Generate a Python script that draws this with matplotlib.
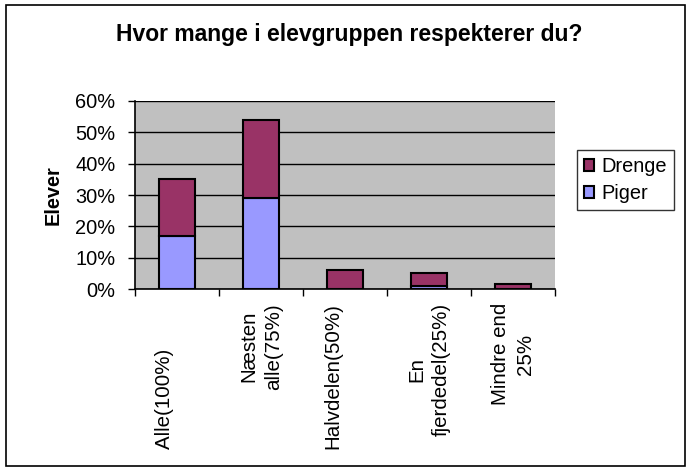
import matplotlib
matplotlib.use("Agg")
import matplotlib.pyplot as plt
from matplotlib.patches import Rectangle
import numpy as np

categories = ["Alle(100%)        \n", "Næsten\nalle(75%)", "Halvdelen(50%)\n", "En\nfjerdedel(25%)", "Mindre end\n25%"]
piger = [0.17, 0.29, 0.0, 0.01, 0.0]
drenge = [0.18, 0.25, 0.06, 0.04, 0.016]
yticks = [0, 0.1, 0.2, 0.3, 0.4, 0.5, 0.6]
ytick_labels = ["0%", "10%", "20%", "30%", "40%", "50%", "60%"]

plt.rcParams["font.family"] = ["Liberation Sans", "DejaVu Sans"]
FS = 14.4

W, H = 691, 473
fig = plt.figure(figsize=(W / 100, H / 100), dpi=100)
fig.patch.set_facecolor("white")

# outer chart border
fig.add_artist(Rectangle((6 / W, 1 - 466 / H), (685 - 6) / W, (466 - 5) / H,
                         transform=fig.transFigure, fill=False, edgecolor="black", linewidth=1.2))

ax = fig.add_axes([135 / W, 1 - 289 / H, (555 - 135) / W, (289 - 101) / H])
ax.set_facecolor("#C0C0C0")

x = np.arange(len(categories))
bw = 0.42
ax.bar(x, piger, bw, color="#9999FF", edgecolor="black", linewidth=1.5, label="Piger", zorder=3)
ax.bar(x, drenge, bw, bottom=piger, color="#993366", edgecolor="black", linewidth=1.5, label="Drenge", zorder=3)

ax.set_xlim(-0.5, len(categories) - 0.5)
ax.set_ylim(0, 0.6)
ax.set_yticks(yticks)
ax.set_yticklabels(ytick_labels, fontsize=FS)
ax.yaxis.grid(True, color="black", linewidth=1)
ax.set_axisbelow(True)
ax.tick_params(axis="y", length=5, width=1, pad=9)

# category ticks at boundaries, labels centered between
ax.set_xticks(np.arange(len(categories) + 1) - 0.5)
ax.set_xticklabels([])
ax.tick_params(axis="x", length=5, width=1)
for xi, lab in zip(x, categories):
    ax.text(xi, -0.045, lab, rotation=90, ha="center", va="top", multialignment="center",
            fontsize=14.8, linespacing=1.35, transform=ax.transData)

for s in ["top", "right"]:
    ax.spines[s].set_visible(False)
ax.spines["left"].set_linewidth(1.2)
ax.spines["bottom"].set_linewidth(1.2)

ax.set_ylabel("Elever", fontsize=FS, fontweight="bold", labelpad=9)

fig.text(349 / W, 1 - 35 / H, "Hvor mange i elevgruppen respekterer du?", ha="center", va="center",
         fontsize=16.5, fontweight="bold")

h, l = ax.get_legend_handles_labels()
leg = fig.legend(h[::-1], l[::-1], loc="upper left", bbox_to_anchor=(577 / W, 1 - 150 / H),
                 fontsize=FS, frameon=True, fancybox=False, edgecolor="black",
                 handlelength=0.5, handleheight=0.5, handletextpad=0.35, borderpad=0.35,
                 labelspacing=0.4, borderaxespad=0)
leg.get_frame().set_linewidth(1)

fig.savefig("out.png", dpi=100)
